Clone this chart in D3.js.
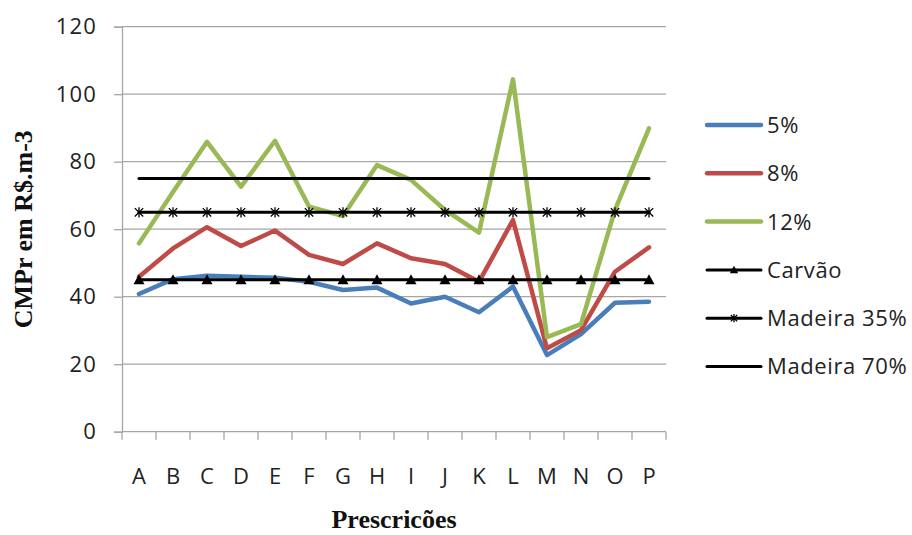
<!DOCTYPE html>
<html>
<head>
<meta charset="utf-8">
<script src="https://cdn.jsdelivr.net/npm/d3@7"></script>
<style>
  html, body { margin: 0; padding: 0; background: #fff; }
  svg { display: block; }
</style>
</head>
<body>
<svg id="chart" width="912" height="535"></svg>
<script>
// Categories (prescrições) and series values
const categories = ["A","B","C","D","E","F","G","H","I","J","K","L","M","N","O","P"];
const yTicks = [0, 20, 40, 60, 80, 100, 120];

const serie5  = [40.8, 45.2, 46.2, 45.9, 45.6, 44.4, 42.0, 42.7, 38.0, 40.0, 35.4, 43.0, 22.7, 28.9, 38.2, 38.5];
const serie8  = [45.9, 54.3, 60.6, 55.0, 59.6, 52.4, 49.7, 55.8, 51.4, 49.7, 44.4, 62.7, 24.7, 30.1, 47.4, 54.6];
const serie12 = [55.8, 71.0, 85.9, 72.6, 86.2, 66.7, 63.9, 79.0, 74.6, 65.7, 59.0, 104.4, 28.0, 31.9, 65.7, 89.9];
const carvao     = categories.map(() => 45);
const madeira35  = categories.map(() => 65);
const madeira70  = categories.map(() => 75);

const seriesNames = ["5%", "8%", "12%", "Carvão", "Madeira 35%", "Madeira 70%"];
const seriesData  = [serie5, serie8, serie12, carvao, madeira35, madeira70];
const seriesColor = ["#4a7ebb", "#be4b48", "#98b954", "#000", "#000", "#000"];
const seriesWidth = [4.5, 4.5, 4.5, 3, 3, 3];
const seriesMarker = [null, null, null, "triangle", "star", null];

const svg = d3.select("#chart");
svg.append("rect").attr("width", 912).attr("height", 535).attr("fill", "#fff");

const plotLeft = 122, plotRight = 666, plotTop = 26.7, plotBottom = 431.7;

const x = d3.scaleBand().domain(categories).range([plotLeft, plotRight]).padding(0);
const cx = c => x(c) + x.bandwidth() / 2;
const y = d3.scaleLinear().domain([0, 120]).range([plotBottom, plotTop]);

const tickFont = "'Open Sans', 'DejaVu Sans', sans-serif";
const grid = "#a6a6a6";

// Horizontal gridlines
svg.append("g").selectAll("line").data(yTicks.filter(t => t > 0)).join("line")
  .attr("x1", plotLeft).attr("x2", plotRight)
  .attr("y1", d => y(d)).attr("y2", d => y(d))
  .attr("stroke", grid).attr("stroke-width", 1.3);

// Y axis
const yAxis = svg.append("g").attr("transform", `translate(${plotLeft},0)`)
  .call(d3.axisLeft(y).tickValues(yTicks).tickSize(8).tickPadding(17));
yAxis.select(".domain").attr("stroke", grid).attr("stroke-width", 1.3);
yAxis.selectAll(".tick line").attr("stroke", grid).attr("stroke-width", 1.3);
yAxis.selectAll(".tick text")
  .attr("font-family", tickFont).attr("font-size", 22).attr("fill", "#222")
  .attr("letter-spacing", 1.2);

// X axis: ticks on category boundaries, labels centred in each band
const xAxisG = svg.append("g").attr("transform", `translate(0,${plotBottom})`);
xAxisG.append("line").attr("x1", plotLeft).attr("x2", plotRight)
  .attr("stroke", grid).attr("stroke-width", 1.3);
const bounds = categories.map(c => x(c)).concat([plotRight]);
xAxisG.selectAll("line.tk").data(bounds).join("line").attr("class", "tk")
  .attr("x1", d => d).attr("x2", d => d).attr("y1", 0).attr("y2", 8)
  .attr("stroke", grid).attr("stroke-width", 1.3);
xAxisG.selectAll("text").data(categories).join("text")
  .attr("x", d => cx(d)).attr("y", 52)
  .attr("text-anchor", "middle")
  .attr("font-family", tickFont).attr("font-size", 22).attr("fill", "#222")
  .text(d => d);

// Marker shapes
function drawMarker(g, type, px, py, scale) {
  const s = scale || 1;
  if (type === "triangle") {
    g.append("path")
      .attr("d", `M${px},${py - 5.5 * s}L${px + 5.5 * s},${py + 4.5 * s}L${px - 5.5 * s},${py + 4.5 * s}Z`)
      .attr("fill", "#000");
  } else if (type === "star") {
    const r = 4.2 * s;
    g.append("path")
      .attr("d", `M${px - r},${py - r}L${px + r},${py + r}M${px - r},${py + r}L${px + r},${py - r}M${px},${py - r - 1}L${px},${py + r + 1}`)
      .attr("stroke", "#000").attr("stroke-width", 1.3).attr("fill", "none");
  }
}

// Series lines
const line = d3.line().x((d, i) => cx(categories[i])).y(d => y(d));
const plot = svg.append("g");
seriesData.forEach((vals, k) => {
  plot.append("path").datum(vals)
    .attr("d", line)
    .attr("fill", "none")
    .attr("stroke", seriesColor[k])
    .attr("stroke-width", seriesWidth[k])
    .attr("stroke-linejoin", "round")
    .attr("stroke-linecap", "round");
  if (seriesMarker[k]) {
    const mg = plot.append("g");
    vals.forEach((v, i) => drawMarker(mg, seriesMarker[k], cx(categories[i]), y(v)));
  }
});

// Legend
const legend = svg.append("g");
const legY0 = 125, legStep = 48.3;
seriesNames.forEach((name, k) => {
  const ly = legY0 + k * legStep;
  legend.append("line")
    .attr("x1", 707).attr("x2", 761).attr("y1", ly).attr("y2", ly)
    .attr("stroke", seriesColor[k]).attr("stroke-width", seriesWidth[k])
    .attr("stroke-linecap", "round");
  if (seriesMarker[k]) drawMarker(legend, seriesMarker[k], 734, ly, 0.75);
  legend.append("text")
    .attr("x", 767).attr("y", ly).attr("dy", "0.36em")
    .attr("font-family", tickFont).attr("font-size", 22).attr("fill", "#222")
    .attr("letter-spacing", 0.6)
    .text(name);
});

// Axis titles
const titleFont = "'Liberation Serif', 'Times New Roman', serif";
svg.append("text")
  .attr("transform", `translate(32,${(plotTop + plotBottom) / 2}) rotate(-90)`)
  .attr("text-anchor", "middle")
  .attr("font-family", titleFont).attr("font-weight", "bold").attr("font-size", 26)
  .attr("fill", "#111")
  .text("CMPr em R$.m-3");
svg.append("text")
  .attr("x", (plotLeft + plotRight) / 2).attr("y", 528)
  .attr("text-anchor", "middle")
  .attr("font-family", titleFont).attr("font-weight", "bold").attr("font-size", 26)
  .attr("fill", "#111")
  .text("Prescricões");
</script>
</body>
</html>
